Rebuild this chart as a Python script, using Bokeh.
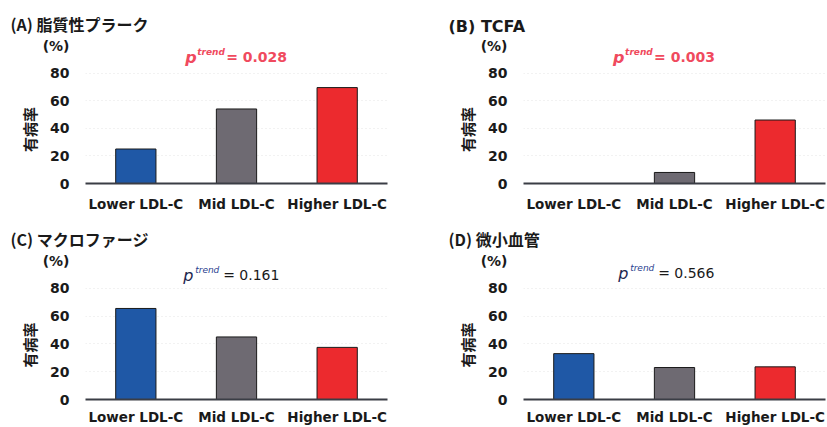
from bokeh.plotting import figure
from bokeh.layouts import row, column
from bokeh.models import Label, FactorRange, Range1d, FixedTicker, ColumnDataSource
from bokeh.embed import file_html
from bokeh.resources import INLINE

# ---------------- data ----------------
categories = ["Lower LDL-C", "Mid LDL-C", "Higher LDL-C"]
lipid_plaque = [25, 54, 69.5]
tcfa = [0, 8, 46]
macrophage = [65.5, 45, 37.5]
microvessel = [33, 23, 23.5]
bar_colors = ["#1f58a6", "#6e6a72", "#ec2a2e"]
y_ticks = [0, 20, 40, 60, 80]
panel_titles = ["(A) 脂質性プラーク", "(B) TCFA", "(C) マクロファージ", "(D) 微小血管"]
p_trends = ["0.028", "0.003", "0.161", "0.566"]
significant = [True, True, False, False]
y_label = "有病率"
unit_label = "(%)"

LATIN = "DejaVu Sans"
CJK = "Noto Sans CJK JP"
Y_TOP = 100  # top of the value axis (where the unit label sits)


def make_panel(title, vals, ptxt, sig, p_x, p_y, width, height, bl, br, bt, bb,
               x_standoff, title_font=CJK):
    src = ColumnDataSource(dict(cat=categories, val=vals, color=bar_colors))
    p = figure(x_range=FactorRange(*categories), y_range=Range1d(0, Y_TOP),
               width=width, height=height, output_backend="svg",
               toolbar_location=None, min_border_left=bl, min_border_right=br,
               min_border_top=bt, min_border_bottom=bb)
    p.outline_line_color = None
    p.vbar(x="cat", top="val", width=0.4, source=src, fill_color="color",
           line_color="#1a1a1a", line_width=1)

    p.title.text = title
    p.title.text_font = title_font
    p.title.text_font_style = "bold"
    p.title.text_font_size = "16px"
    p.title.text_color = "#1a1a1a"
    p.title.align = "left"
    p.title.offset = -75
    p.title.vertical_align = "middle"
    p.title.standoff = 18

    p.xgrid.grid_line_color = None
    p.ygrid.grid_line_color = "#e4e4e4"
    p.ygrid.grid_line_dash = "1 3"
    p.ygrid.ticker = FixedTicker(ticks=y_ticks[1:])

    xa = p.xaxis[0]
    xa.axis_line_color = "#3a3d45"
    xa.axis_line_width = 2
    xa.major_tick_line_color = None
    xa.minor_tick_line_color = None
    xa.major_tick_out = 0
    xa.major_label_text_font = LATIN
    xa.major_label_text_font_style = "bold"
    xa.major_label_text_font_size = "13.5px"
    xa.major_label_text_color = "#1a1a1a"
    xa.major_label_standoff = x_standoff

    ya = p.yaxis[0]
    ya.ticker = FixedTicker(ticks=y_ticks + [Y_TOP])
    ya.major_label_overrides = {Y_TOP: unit_label}
    ya.axis_line_color = None
    ya.major_tick_line_color = None
    ya.minor_tick_line_color = None
    ya.major_tick_out = 0
    ya.major_label_text_font = LATIN
    ya.major_label_text_font_style = "bold"
    ya.major_label_text_font_size = "14px"
    ya.major_label_text_color = "#1a1a1a"
    ya.major_label_standoff = 16
    ya.axis_label = y_label + "\u3000\u3000"
    ya.axis_label_text_font = CJK
    ya.axis_label_text_font_style = "bold"
    ya.axis_label_text_font_size = "15px"
    ya.axis_label_text_color = "#1a1a1a"
    ya.axis_label_standoff = 0

    # p trend annotation
    if sig:
        c_p, c_sup, c_rest, style, istyle = "#f04a5e", "#f04a5e", "#f04a5e", "bold", "bold italic"
        eq_off = 41
    else:
        c_p, c_sup, c_rest, style, istyle = "#1f2850", "#2a3f8f", "#1a1a1a", "normal", "italic"
        eq_off = 40
    p.add_layout(Label(x=p_x, y=p_y, text="p", text_font=LATIN,
                       text_font_style=istyle, text_font_size="16px",
                       text_color=c_p, text_baseline="middle", text_align="left"))
    p.add_layout(Label(x=p_x, y=p_y, x_offset=12, y_offset=5, text="trend",
                       text_font=LATIN, text_font_style=istyle,
                       text_font_size="9px", text_color=c_sup,
                       text_baseline="middle", text_align="left"))
    p.add_layout(Label(x=p_x, y=p_y, x_offset=eq_off, text="= " + ptxt,
                       text_font=LATIN, text_font_style=style,
                       text_font_size="14px", text_color=c_rest,
                       text_baseline="middle", text_align="left"))
    return p


pa = make_panel(panel_titles[0], lipid_plaque, p_trends[0], significant[0], 0.99, 91.5,
                420, 215, 85, 33, 45, 32, 12)
pb = make_panel(panel_titles[1], tcfa, p_trends[1], significant[1], 0.89, 91.5,
                407, 215, 103, 2, 45, 32, 12, title_font=LATIN)
pc = make_panel(panel_titles[2], macrophage, p_trends[2], significant[2], 0.97, 89.5,
                420, 212, 85, 33, 45, 28, 9)
pd_ = make_panel(panel_titles[3], microvessel, p_trends[3], significant[3], 0.94, 91,
                 407, 212, 103, 2, 45, 28, 9)

layout = column(row(pa, pb), row(pc, pd_))
open("out.html", "w").write(file_html(layout, INLINE))
